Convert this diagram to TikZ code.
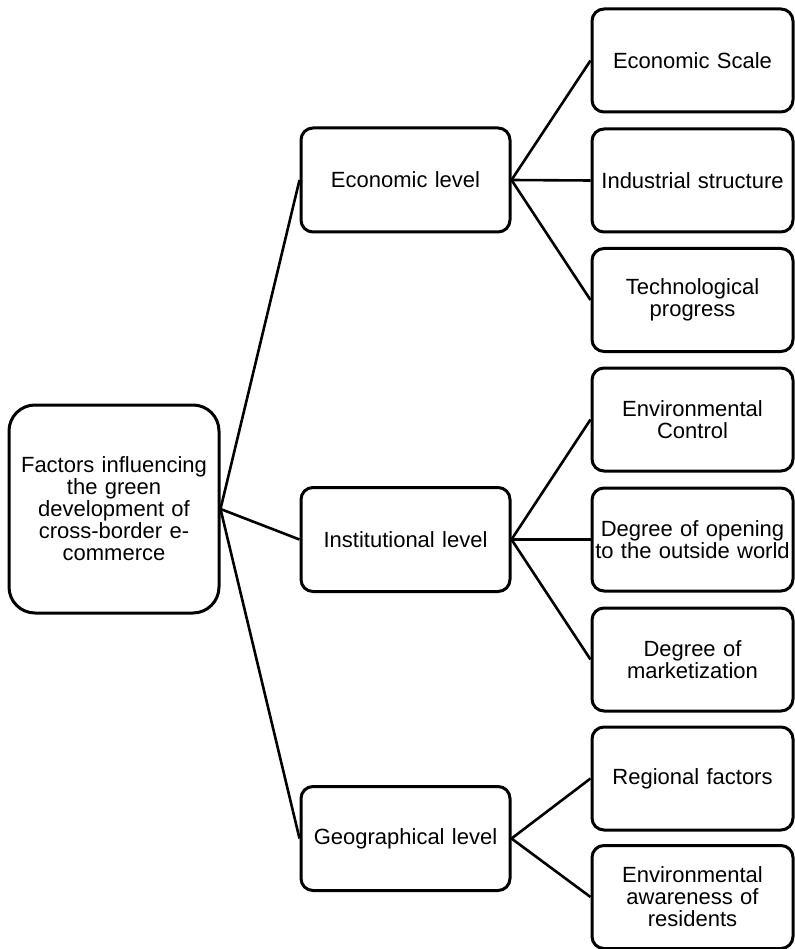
\documentclass[tikz,border=0pt]{standalone}
\usepackage{fontspec}
\setmainfont{Liberation Sans}
\begin{document}
\begin{tikzpicture}[x=1pt,y=-1pt,
  box/.style={draw, line width=3pt, rounded corners=12pt, align=center, inner sep=0pt,
    font=\fontsize{22}{22}\selectfont},
  rootbox/.style={box, minimum width=210pt, minimum height=208pt, text width=200pt, rounded corners=26pt},
  midbox/.style={box, minimum width=209pt, minimum height=104pt, text width=200pt},
  leafbox/.style={box, minimum width=201pt, minimum height=103pt, text width=200pt},
  link/.style={line width=2.6pt}]
\useasboundingbox (0,0) rectangle (794,949);

\node[rootbox] (root) at (114,509) {Factors influencing\\the green\\development of\\cross-border e-\\commerce};

\node[midbox] (eco) at (405.5,180) {Economic level};
\node[midbox] (ins) at (405.5,539.5) {Institutional level};
\node[midbox] (geo) at (405.5,838.5) {Geographical level};

\node[leafbox] (es) at (692.5,60.5) {Economic Scale};
\node[leafbox] (is) at (692.5,180.5) {Industrial structure};
\node[leafbox] (tp) at (692.5,300) {Technological\\progress};
\node[leafbox] (ec) at (692.5,419.5) {Environmental\\Control};
\node[leafbox] (do) at (692.5,539.5) {Degree of opening\\to the outside world};
\node[leafbox] (dm) at (692.5,659.5) {Degree of\\marketization};
\node[leafbox] (rf) at (692.5,778.5) {Regional factors};
\node[leafbox] (ea) at (692.5,897) {Environmental\\awareness of\\residents};

\draw[link] (root.east) -- (eco.west);
\draw[link] (root.east) -- (ins.west);
\draw[link] (root.east) -- (geo.west);

\draw[link] (eco.east) -- (es.west);
\draw[link] (eco.east) -- (is.west);
\draw[link] (eco.east) -- (tp.west);

\draw[link] (ins.east) -- (ec.west);
\draw[link] (ins.east) -- (do.west);
\draw[link] (ins.east) -- (dm.west);

\draw[link] (geo.east) -- (rf.west);
\draw[link] (geo.east) -- (ea.west);
\end{tikzpicture}
\end{document}
